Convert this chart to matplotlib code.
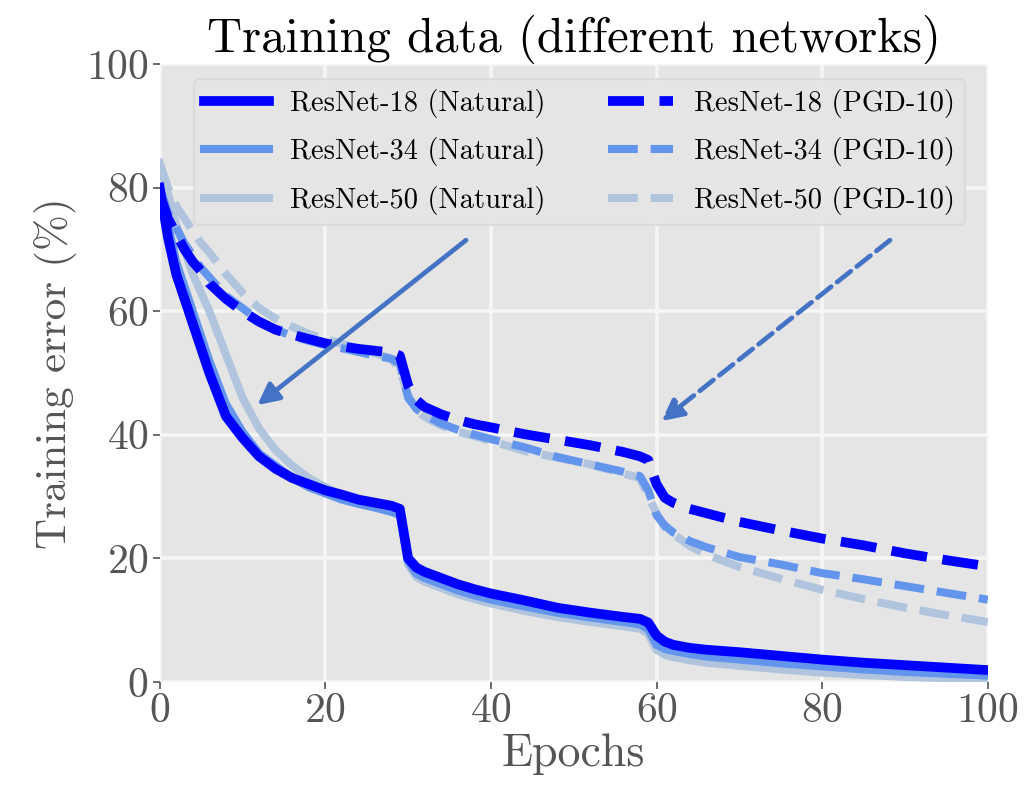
import matplotlib
matplotlib.use("Agg")
import matplotlib.pyplot as plt
from matplotlib.patches import FancyArrowPatch

# Epochs at which the training error was recorded
epochs = [0, 1, 2, 3, 4, 5, 6, 8, 10, 12, 14, 16, 18, 20, 22, 24, 26, 28, 29, 30,
          31, 32, 34, 36, 38, 40, 44, 48, 52, 56, 58, 59, 60, 61, 62, 64, 66, 70,
          75, 80, 85, 90, 95, 100]

# Training error (%) with natural training
r18_nat = [80, 72, 66, 62, 58, 54, 50, 43, 39.5, 36.5, 34.5, 33, 32, 31, 30.3, 29.5,
           29, 28.5, 28.0, 20.0, 18.5, 17.8, 16.8, 15.8, 15, 14.3, 13.2, 12.0, 11.2,
           10.5, 10.2, 9.6, 7.5, 6.5, 6.0, 5.5, 5.2, 4.8, 4.2, 3.6, 3.1, 2.7, 2.3, 1.9]
r34_nat = [80, 74, 68, 64, 60, 56, 52, 45, 40.5, 37, 35, 33, 31.5, 30.5, 29.5, 28.8,
           28.2, 27.5, 27, 19.5, 17.5, 16.8, 15.8, 14.8, 14.0, 13.3, 12.2, 11.2, 10.4,
           9.7, 9.3, 8.5, 6.0, 5.3, 5.0, 4.5, 4.1, 3.6, 3.0, 2.5, 2.0, 1.6, 1.3, 1.0]
r50_nat = [84, 79, 74, 70, 66, 63, 60, 53, 46, 41, 37.5, 35, 33, 31.5, 30.3, 29.5,
           29, 28.5, 27.5, 19, 17.0, 16.2, 15.2, 14.2, 13.4, 12.7, 11.5, 10.5, 9.7,
           9.0, 8.6, 7.8, 5.2, 4.4, 4.0, 3.5, 3.1, 2.6, 2.0, 1.5, 1.1, 0.8, 0.6, 0.4]

# Training error (%) with PGD-10 adversarial training
r18_pgd = [79, 75, 72.5, 70, 68, 66.5, 64.5, 62, 60, 58.3, 57, 56.2, 55.5, 54.8, 54.3,
           53.9, 53.6, 53.3, 52.8, 48, 45.6, 44.5, 43.3, 42.4, 41.7, 41.2, 40.1, 39.2,
           38.3, 37.2, 36.5, 35.9, 32, 29.8, 29.0, 28.0, 27.3, 25.9, 24.5, 23.2, 22.1,
           20.8, 19.7, 18.7]
r34_pgd = [80, 76, 73.5, 71, 69, 67, 65.5, 62.5, 60.5, 58.5, 57, 56, 55.2, 54.5, 54,
           53.4, 52.8, 52.3, 51.5, 46, 44.2, 43.2, 41.8, 40.8, 40.0, 39.3, 38.0, 36.4,
           35.2, 34.0, 33.3, 31, 27, 25.3, 24.2, 22.8, 21.8, 20.2, 19.0, 17.6, 16.6,
           15.5, 14.4, 13.3]
r50_pgd = [84, 80, 77, 75, 73, 71, 69.5, 66, 63, 60.5, 58.8, 57.5, 56.3, 55.5, 54.7,
           54, 53.2, 52.3, 50.5, 46.5, 44, 42.9, 41.5, 40.5, 39.8, 39.0, 37.4, 36.3,
           35.2, 33.7, 33.0, 30, 27.3, 25, 24.0, 22.0, 20.6, 18.6, 16.7, 14.9, 13.4,
           12.0, 10.8, 9.7]

labels_nat = ["ResNet-18 (Natural)", "ResNet-34 (Natural)", "ResNet-50 (Natural)"]
labels_pgd = ["ResNet-18 (PGD-10)", "ResNet-34 (PGD-10)", "ResNet-50 (PGD-10)"]
colors = ["#0000FF", "#6495ED", "#B0C4DE"]
widths = [7.0, 5.8, 5.8]

# Callout arrows: (tail, head) in data coordinates
arrow_nat = ((37.0, 71.5), (11.8, 44.8))
arrow_pgd = ((88.2, 71.5), (60.6, 42.2))
xticks = [0, 20, 40, 60, 80, 100]
yticks = [0, 20, 40, 60, 80, 100]

plt.rcParams.update({
    "font.family": ["cmr10", "DejaVu Serif"],
    "mathtext.fontset": "cm",
    "axes.formatter.use_mathtext": True,
    "axes.unicode_minus": False,
})

fig = plt.figure(figsize=(10.30, 7.91), dpi=100)
ax = fig.add_axes([0.155, 0.138, 0.804, 0.781])
ax.set_facecolor("#E5E5E5")
for s in ax.spines.values():
    s.set_visible(False)
ax.grid(True, color="#F6F6F6", linewidth=2.6)
ax.set_axisbelow(True)

series_nat = [r18_nat, r34_nat, r50_nat]
series_pgd = [r18_pgd, r34_pgd, r50_pgd]
for i in range(3):
    ax.plot(epochs, series_nat[i], color=colors[i], lw=widths[i], ls="-",
            label=labels_nat[i], zorder=6 - i)
for i in range(3):
    ax.plot(epochs, series_pgd[i], color=colors[i], lw=widths[i], ls="--",
            label=labels_pgd[i], zorder=6 - i)

for (tail, head), style in ((arrow_nat, "-"), (arrow_pgd, "--")):
    arr = FancyArrowPatch(tail, head, arrowstyle="-|>", mutation_scale=32,
                          color="#4472C4", lw=3.4, linestyle=style,
                          shrinkA=0, shrinkB=0, zorder=8)
    ax.add_patch(arr)

ax.set_xlim(0, 100)
ax.set_ylim(0, 100)
ax.set_xticks(xticks)
ax.set_yticks(yticks)
ax.tick_params(axis="both", labelsize=30, colors="#555555", length=5, width=1.2,
               pad=3)
ax.set_xlabel("Epochs", fontsize=33, color="#555555", labelpad=2)
ax.set_ylabel("Training error (%)", fontsize=31, color="#555555", labelpad=6)
ax.set_title("Training data (different networks)", fontsize=35, color="black",
             pad=8)

leg = ax.legend(ncol=2, loc="upper center", bbox_to_anchor=(0.507, 0.976),
                fontsize=20.5, handlelength=2.28, handletextpad=0.75,
                columnspacing=2.2, labelspacing=0.68, borderpad=0.35,
                borderaxespad=0.0, frameon=True, fancybox=True)
leg.get_frame().set_facecolor("#E5E5E5")
leg.get_frame().set_edgecolor("#DADADA")
leg.get_frame().set_linewidth(1.5)
leg.get_frame().set_alpha(0.9)
leg.set_zorder(10)

fig.savefig("out.png", dpi=100)
